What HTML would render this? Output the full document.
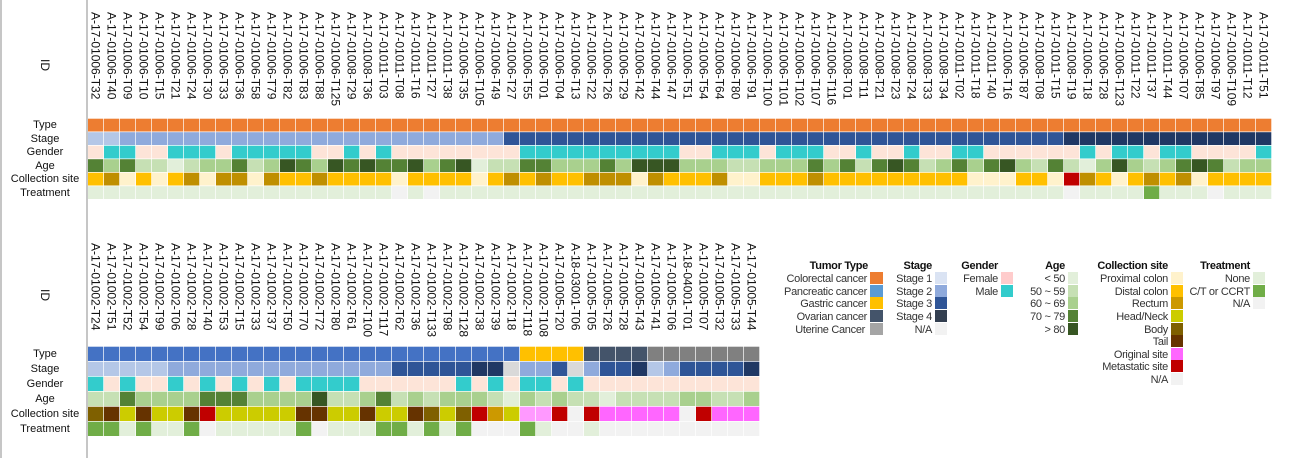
<!DOCTYPE html>
<html><head><meta charset="utf-8">
<style>
html,body{margin:0;padding:0;background:#fff;}
svg{display:block;font-family:"Liberation Sans",sans-serif;}
.id{font-size:12px;fill:#111;}
.rl{font-size:11px;fill:#111;text-anchor:middle;}
.lg{font-size:11px;fill:#333;text-anchor:end;letter-spacing:-0.3px;}
.lt{font-size:11px;fill:#111;text-anchor:end;font-weight:600;letter-spacing:-0.3px;}
</style></head>
<body>
<svg id="s" width="1296" height="458" viewBox="0 0 1296 458" xmlns="http://www.w3.org/2000/svg">
<rect width="1296" height="458" fill="#fff"/>
<line x1="1" y1="0" x2="1" y2="458" stroke="#a0a0a0" stroke-width="1.2"/>
<line x1="87" y1="0" x2="87" y2="458" stroke="#a0a0a0" stroke-width="1.2"/>
<g id="cells"></g>
<text class="rl" x="45" y="128">Type</text>
<text class="rl" x="45" y="142">Stage</text>
<text class="rl" x="45" y="155">Gender</text>
<text class="rl" x="45" y="169">Age</text>
<text class="rl" x="45" y="182">Collection site</text>
<text class="rl" x="45" y="196">Treatment</text>
<text class="rl" x="45" y="357">Type</text>
<text class="rl" x="45" y="372">Stage</text>
<text class="rl" x="45" y="387">Gender</text>
<text class="rl" x="45" y="402">Age</text>
<text class="rl" x="45" y="417">Collection site</text>
<text class="rl" x="45" y="432">Treatment</text>
<text class="rl" transform="rotate(90 41 65)" x="41" y="65" style="font-size:12px">ID</text>
<text class="rl" transform="rotate(90 41 295)" x="41" y="295" style="font-size:12px">ID</text>

<text class="lt" x="868" y="269">Tumor Type</text>
<text class="lg" x="867" y="282">Colorectal cancer</text>
<text class="lg" x="867" y="295">Pancreatic cancer</text>
<text class="lg" x="867" y="307">Gastric cancer</text>
<text class="lg" x="867" y="320">Ovarian cancer</text>
<text class="lg" x="865" y="333">Uterine Cancer</text>
<rect x="870" y="272" width="13" height="12" fill="#ED7D31"/>
<rect x="870" y="285" width="13" height="12" fill="#5B9BD5"/>
<rect x="870" y="297" width="13" height="12" fill="#FFC000"/>
<rect x="870" y="310" width="13" height="12" fill="#44546A"/>
<rect x="870" y="323" width="13" height="12" fill="#A5A5A5"/>

<text class="lt" x="932" y="269">Stage</text>
<text class="lg" x="932" y="282">Stage 1</text>
<text class="lg" x="932" y="295">Stage 2</text>
<text class="lg" x="932" y="307">Stage 3</text>
<text class="lg" x="932" y="320">Stage 4</text>
<text class="lg" x="932" y="333">N/A</text>
<rect x="935" y="272" width="12" height="12" fill="#DAE3F3"/>
<rect x="935" y="285" width="12" height="12" fill="#8FAADC"/>
<rect x="935" y="297" width="12" height="12" fill="#2F5597"/>
<rect x="935" y="310" width="12" height="12" fill="#333F50"/>
<rect x="935" y="323" width="12" height="12" fill="#F2F2F2"/>

<text class="lt" x="998" y="269">Gender</text>
<text class="lg" x="998" y="282">Female</text>
<text class="lg" x="998" y="295">Male</text>
<rect x="1001" y="272" width="12" height="12" fill="#FFCCCC"/>
<rect x="1001" y="285" width="12" height="12" fill="#33CCCC"/>

<text class="lt" x="1065" y="269">Age</text>
<text class="lg" x="1065" y="282">&lt; 50</text>
<text class="lg" x="1065" y="295">50 ~ 59</text>
<text class="lg" x="1065" y="307">60 ~ 69</text>
<text class="lg" x="1065" y="320">70 ~ 79</text>
<text class="lg" x="1065" y="333">&gt; 80</text>
<rect x="1068" y="272" width="10" height="12" fill="#E2EFDA"/>
<rect x="1068" y="285" width="10" height="12" fill="#C6E0B4"/>
<rect x="1068" y="297" width="10" height="12" fill="#A9D08E"/>
<rect x="1068" y="310" width="10" height="12" fill="#548235"/>
<rect x="1068" y="323" width="10" height="12" fill="#375623"/>

<text class="lt" x="1168" y="269">Collection site</text>
<text class="lg" x="1168" y="282">Proximal colon</text>
<text class="lg" x="1168" y="295">Distal colon</text>
<text class="lg" x="1168" y="307">Rectum</text>
<text class="lg" x="1168" y="320">Head/Neck</text>
<text class="lg" x="1168" y="333">Body</text>
<text class="lg" x="1168" y="345">Tail</text>
<text class="lg" x="1168" y="358">Original site</text>
<text class="lg" x="1168" y="370">Metastatic site</text>
<text class="lg" x="1168" y="383">N/A</text>
<rect x="1171" y="272" width="12" height="12" fill="#FFF2CC"/>
<rect x="1171" y="285" width="12" height="12" fill="#FFC000"/>
<rect x="1171" y="297" width="12" height="12" fill="#CC9900"/>
<rect x="1171" y="310" width="12" height="12" fill="#CCCC00"/>
<rect x="1171" y="323" width="12" height="12" fill="#7F6000"/>
<rect x="1171" y="335" width="12" height="12" fill="#663300"/>
<rect x="1171" y="348" width="12" height="12" fill="#FF66FF"/>
<rect x="1171" y="360" width="12" height="12" fill="#C00000"/>
<rect x="1171" y="373" width="12" height="12" fill="#F2F2F2"/>

<text class="lt" x="1250" y="269">Treatment</text>
<text class="lg" x="1250" y="282">None</text>
<text class="lg" x="1250" y="295">C/T or CCRT</text>
<text class="lg" x="1250" y="307">N/A</text>
<rect x="1253" y="272" width="12" height="12" fill="#E2EFDA"/>
<rect x="1253" y="285" width="12" height="12" fill="#70AD47"/>
<rect x="1253" y="297" width="12" height="12" fill="#F2F2F2"/>

<g class="id">
<text x="12" y="-91.6" transform="rotate(90)">A-17-01006-T32</text>
<text x="12" y="-107.6" transform="rotate(90)">A-17-01006-T40</text>
<text x="12" y="-123.6" transform="rotate(90)">A-17-01006-T09</text>
<text x="12" y="-139.6" transform="rotate(90)">A-17-01006-T10</text>
<text x="12" y="-155.6" transform="rotate(90)">A-17-01006-T15</text>
<text x="12" y="-171.6" transform="rotate(90)">A-17-01006-T21</text>
<text x="12" y="-187.6" transform="rotate(90)">A-17-01006-T24</text>
<text x="12" y="-203.6" transform="rotate(90)">A-17-01006-T30</text>
<text x="12" y="-219.6" transform="rotate(90)">A-17-01006-T33</text>
<text x="12" y="-235.6" transform="rotate(90)">A-17-01006-T36</text>
<text x="12" y="-251.6" transform="rotate(90)">A-17-01006-T58</text>
<text x="12" y="-267.6" transform="rotate(90)">A-17-01006-T79</text>
<text x="12" y="-283.6" transform="rotate(90)">A-17-01006-T82</text>
<text x="12" y="-299.6" transform="rotate(90)">A-17-01006-T83</text>
<text x="12" y="-315.6" transform="rotate(90)">A-17-01006-T88</text>
<text x="12" y="-331.6" transform="rotate(90)">A-17-01006-T125</text>
<text x="12" y="-347.6" transform="rotate(90)">A-17-01008-T29</text>
<text x="12" y="-363.6" transform="rotate(90)">A-17-01008-T36</text>
<text x="12" y="-379.6" transform="rotate(90)">A-17-01011-T03</text>
<text x="12" y="-395.6" transform="rotate(90)">A-17-01011-T08</text>
<text x="12" y="-411.6" transform="rotate(90)">A-17-01011-T16</text>
<text x="12" y="-427.6" transform="rotate(90)">A-17-01011-T27</text>
<text x="12" y="-443.6" transform="rotate(90)">A-17-01011-T38</text>
<text x="12" y="-459.6" transform="rotate(90)">A-17-01006-T35</text>
<text x="12" y="-475.6" transform="rotate(90)">A-17-01006-T105</text>
<text x="12" y="-491.6" transform="rotate(90)">A-17-01006-T49</text>
<text x="12" y="-507.6" transform="rotate(90)">A-17-01006-T27</text>
<text x="12" y="-523.6" transform="rotate(90)">A-17-01006-T55</text>
<text x="12" y="-539.6" transform="rotate(90)">A-17-01006-T01</text>
<text x="12" y="-555.6" transform="rotate(90)">A-17-01006-T04</text>
<text x="12" y="-571.6" transform="rotate(90)">A-17-01006-T13</text>
<text x="12" y="-587.6" transform="rotate(90)">A-17-01006-T22</text>
<text x="12" y="-603.6" transform="rotate(90)">A-17-01006-T26</text>
<text x="12" y="-619.6" transform="rotate(90)">A-17-01006-T29</text>
<text x="12" y="-635.6" transform="rotate(90)">A-17-01006-T42</text>
<text x="12" y="-651.6" transform="rotate(90)">A-17-01006-T44</text>
<text x="12" y="-667.6" transform="rotate(90)">A-17-01006-T47</text>
<text x="12" y="-683.6" transform="rotate(90)">A-17-01006-T51</text>
<text x="12" y="-699.6" transform="rotate(90)">A-17-01006-T54</text>
<text x="12" y="-715.6" transform="rotate(90)">A-17-01006-T64</text>
<text x="12" y="-731.6" transform="rotate(90)">A-17-01006-T80</text>
<text x="12" y="-747.6" transform="rotate(90)">A-17-01006-T91</text>
<text x="12" y="-763.6" transform="rotate(90)">A-17-01006-T100</text>
<text x="12" y="-779.6" transform="rotate(90)">A-17-01006-T101</text>
<text x="12" y="-795.6" transform="rotate(90)">A-17-01006-T102</text>
<text x="12" y="-811.6" transform="rotate(90)">A-17-01006-T107</text>
<text x="12" y="-827.6" transform="rotate(90)">A-17-01006-T116</text>
<text x="12" y="-843.6" transform="rotate(90)">A-17-01008-T01</text>
<text x="12" y="-859.6" transform="rotate(90)">A-17-01008-T11</text>
<text x="12" y="-875.6" transform="rotate(90)">A-17-01008-T21</text>
<text x="12" y="-891.6" transform="rotate(90)">A-17-01008-T23</text>
<text x="12" y="-907.6" transform="rotate(90)">A-17-01008-T24</text>
<text x="12" y="-923.6" transform="rotate(90)">A-17-01008-T33</text>
<text x="12" y="-939.6" transform="rotate(90)">A-17-01008-T34</text>
<text x="12" y="-955.6" transform="rotate(90)">A-17-01011-T02</text>
<text x="12" y="-971.6" transform="rotate(90)">A-17-01011-T18</text>
<text x="12" y="-987.6" transform="rotate(90)">A-17-01011-T40</text>
<text x="12" y="-1003.6" transform="rotate(90)">A-17-01006-T16</text>
<text x="12" y="-1019.6" transform="rotate(90)">A-17-01006-T87</text>
<text x="12" y="-1035.6" transform="rotate(90)">A-17-01008-T08</text>
<text x="12" y="-1051.6" transform="rotate(90)">A-17-01011-T15</text>
<text x="12" y="-1067.6" transform="rotate(90)">A-17-01008-T19</text>
<text x="12" y="-1083.6" transform="rotate(90)">A-17-01006-T18</text>
<text x="12" y="-1099.6" transform="rotate(90)">A-17-01006-T28</text>
<text x="12" y="-1115.6" transform="rotate(90)">A-17-01006-T123</text>
<text x="12" y="-1131.6" transform="rotate(90)">A-17-01011-T22</text>
<text x="12" y="-1147.6" transform="rotate(90)">A-17-01011-T37</text>
<text x="12" y="-1163.6" transform="rotate(90)">A-17-01011-T44</text>
<text x="12" y="-1179.6" transform="rotate(90)">A-17-01006-T07</text>
<text x="12" y="-1195.6" transform="rotate(90)">A-17-01006-T85</text>
<text x="12" y="-1211.6" transform="rotate(90)">A-17-01006-T97</text>
<text x="12" y="-1227.6" transform="rotate(90)">A-17-01006-T109</text>
<text x="12" y="-1243.6" transform="rotate(90)">A-17-01011-T12</text>
<text x="12" y="-1259.6" transform="rotate(90)">A-17-01011-T51</text>
</g>
<g class="id">
<text x="243" y="-91.6" transform="rotate(90)">A-17-01002-T24</text>
<text x="243" y="-107.6" transform="rotate(90)">A-17-01002-T51</text>
<text x="243" y="-123.6" transform="rotate(90)">A-17-01002-T52</text>
<text x="243" y="-139.6" transform="rotate(90)">A-17-01002-T54</text>
<text x="243" y="-155.6" transform="rotate(90)">A-17-01002-T99</text>
<text x="243" y="-171.6" transform="rotate(90)">A-17-01002-T06</text>
<text x="243" y="-187.6" transform="rotate(90)">A-17-01002-T28</text>
<text x="243" y="-203.6" transform="rotate(90)">A-17-01002-T40</text>
<text x="243" y="-219.6" transform="rotate(90)">A-17-01002-T53</text>
<text x="243" y="-235.6" transform="rotate(90)">A-17-01002-T15</text>
<text x="243" y="-251.6" transform="rotate(90)">A-17-01002-T33</text>
<text x="243" y="-267.6" transform="rotate(90)">A-17-01002-T37</text>
<text x="243" y="-283.6" transform="rotate(90)">A-17-01002-T50</text>
<text x="243" y="-299.6" transform="rotate(90)">A-17-01002-T70</text>
<text x="243" y="-315.6" transform="rotate(90)">A-17-01002-T72</text>
<text x="243" y="-331.6" transform="rotate(90)">A-17-01002-T80</text>
<text x="243" y="-347.6" transform="rotate(90)">A-17-01002-T61</text>
<text x="243" y="-363.6" transform="rotate(90)">A-17-01002-T100</text>
<text x="243" y="-379.6" transform="rotate(90)">A-17-01002-T117</text>
<text x="243" y="-395.6" transform="rotate(90)">A-17-01002-T62</text>
<text x="243" y="-411.6" transform="rotate(90)">A-17-01002-T36</text>
<text x="243" y="-427.6" transform="rotate(90)">A-17-01002-T133</text>
<text x="243" y="-443.6" transform="rotate(90)">A-17-01002-T98</text>
<text x="243" y="-459.6" transform="rotate(90)">A-17-01002-T128</text>
<text x="243" y="-475.6" transform="rotate(90)">A-17-01002-T38</text>
<text x="243" y="-491.6" transform="rotate(90)">A-17-01002-T39</text>
<text x="243" y="-507.6" transform="rotate(90)">A-17-01002-T18</text>
<text x="243" y="-523.6" transform="rotate(90)">A-17-01002-T118</text>
<text x="243" y="-539.6" transform="rotate(90)">A-17-01002-T108</text>
<text x="243" y="-555.6" transform="rotate(90)">A-17-01005-T20</text>
<text x="243" y="-571.6" transform="rotate(90)">A-18-03001-T06</text>
<text x="243" y="-587.6" transform="rotate(90)">A-17-01005-T05</text>
<text x="243" y="-603.6" transform="rotate(90)">A-17-01005-T26</text>
<text x="243" y="-619.6" transform="rotate(90)">A-17-01005-T28</text>
<text x="243" y="-635.6" transform="rotate(90)">A-17-01005-T43</text>
<text x="243" y="-651.6" transform="rotate(90)">A-17-01005-T41</text>
<text x="243" y="-667.6" transform="rotate(90)">A-17-01005-T06</text>
<text x="243" y="-683.6" transform="rotate(90)">A-18-04001-T01</text>
<text x="243" y="-699.6" transform="rotate(90)">A-17-01005-T07</text>
<text x="243" y="-715.6" transform="rotate(90)">A-17-01005-T32</text>
<text x="243" y="-731.6" transform="rotate(90)">A-17-01005-T33</text>
<text x="243" y="-747.6" transform="rotate(90)">A-17-01005-T44</text>
</g>
</svg>
<script>
(function(){
var NS="http://www.w3.org/2000/svg",g=document.getElementById("cells");
function row(str,map,y,h){for(var i=0;i<str.length;i++){var r=document.createElementNS(NS,"rect");r.setAttribute("x",88+16*i);r.setAttribute("y",y);r.setAttribute("width",15.3);r.setAttribute("height",h);r.setAttribute("fill",map[str[i]]);g.appendChild(r);}}
function rep(c,n){return new Array(n+1).join(c);}
var st={"1":"#B4C7E7","2":"#8FAADC","3":"#2F5597","4":"#203864","N":"#D9D9D9"};
var ge={F:"#FDE4D8",M:"#33CCCC"};
var ag={"1":"#E2EFDA","2":"#C6E0B4","3":"#A9D08E","4":"#548235","5":"#375623"};
var co={P:"#FFF2CC",D:"#FFC000",R:"#BF8F00",M:"#C00000",B:"#7F6000",T:"#663300",H:"#CCCC00",o:"#FF99FF",O:"#FF66FF",N:"#F2F2F2",Q:"#CC9900"};
var tr={N:"#E2EFDA",C:"#70AD47",X:"#F2F2F2"};
var ty={c:"#ED7D31",p:"#4472C4",g:"#FFC000",v:"#44546A",u:"#808080"};
var h=12.8,y0=118.7,p=13.5;
row(rep("c",74),ty,y0,h);
row("11"+rep("2",24)+rep("3",35)+rep("4",13),st,y0+p,h);
row("FMMFFMMMFMMMMMFFMFMFFFFFFFF"+"MMMMMMMMMMFFMMMFMMMFFMFF"+"MFFMMFFFFFFMFMMFMMFFFFM",ge,y0+2*p,h);
row("434221233423543545445345122"+"443334355533322333434245"+"42343453242135323454233",ag,y0+3*p,h);
row("DRPDPDRPRRPRDDRDDDDPDDDDPDR"+"DRDDRRRPRDDDRPPDDDRDDDDD"+"DDDDPPPDDPMRDPDRDRPDDDD",co,y0+4*p,h);
var t=rep("N",74).split("");t[19]="X";t[21]="X";t[61]="X";t[70]="X";t[66]="C";
row(t.join(""),tr,y0+5*p,h);
var b0=346.7,bp=15,bh=14.3;
row(rep("p",27)+rep("g",4)+rep("v",4)+rep("u",7),ty,b0,bh);
row("11111"+rep("2",14)+"33333"+"44"+"N"+"22"+"3"+"N"+"2"+"33"+"4"+"1"+"2"+"3333"+"4",st,b0+bp,bh);
row("MFMFFMFMFMFMFMMMMFFFFF"+"FMFMFMMFM"+rep("F",11),ge,b0+2*bp,bh);
row("22433334443333522342"+"3233321323221222233223",ag,b0+3*bp,bh);
row("BTHTHHTMHHHHHTTHHTHH"+"TBHBMQHooMNMOOOOONMOOO",co,b0+4*bp,bh);
row("CCNCNNCXNNNNNCXNNNCC"+"NCNCXXXCNXXNXXXXXXXXXX",tr,b0+5*bp,bh);
})();
</script>
</body></html>
